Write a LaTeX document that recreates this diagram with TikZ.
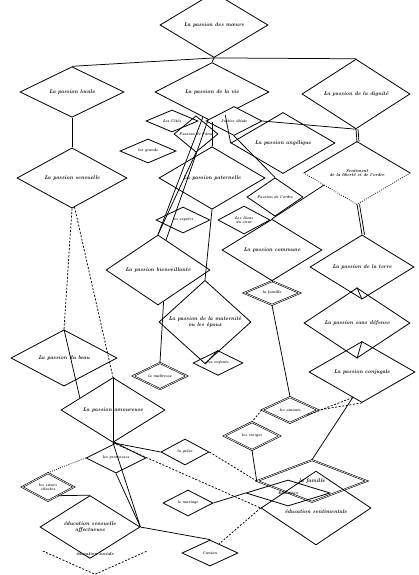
\documentclass[tikz,border=0pt]{standalone}
\usetikzlibrary{shapes.geometric}
\begin{document}
\begin{tikzpicture}[x=1pt,y=-1pt,
  dm/.style 2 args={diamond, draw, line width=0.8pt, inner sep=0pt, minimum width=#1pt, minimum height=#2pt, align=center, font=\fontsize{5.4}{5.8}\selectfont\bfseries\itshape},
  ds/.style 2 args={diamond, draw, line width=0.8pt, inner sep=0pt, minimum width=#1pt, minimum height=#2pt, align=center, font=\fontsize{3.9}{4.3}\selectfont\bfseries\itshape},
  dk/.style={double, line width=0.6pt, double distance=0.6pt},
  nd/.style 2 args={diamond, inner sep=0pt, minimum width=#1pt, minimum height=#2pt, align=center, font=\fontsize{4.4}{4.9}\selectfont\bfseries\itshape},
  conn/.style={line width=0.75pt},
  dsh/.style={line width=0.75pt, dash pattern=on 2pt off 1.6pt},
  dot/.style={line width=0.8pt, dash pattern=on 0.8pt off 1.4pt}]
\useasboundingbox (0,0) rectangle (418,575);
% nodes
\node[dm={108}{44}] (n1) at (214,25) {La passion des m\oe urs};
\node[dm={104}{48}] (n2) at (72,92) {La passion locale};
\node[dm={114}{42}] (n3) at (212,92) {La passion de la vie};
\node[dm={108}{44}] (n4) at (356,94) {La passion de la dignit\'e};
\node[ds={52}{22}, fill=white] (n5) at (172,121) {Les Cit\'es};
\node[ds={56}{22}, fill=white] (n6) at (234,121) {Justice id\'eale};
\node[ds={44}{20}] (n7) at (196,134) {Passion de l'\^ame};
\node[ds={56}{24}] (n8) at (148,151) {les grands};
\node[dm={104}{36}] (n9) at (283,143) {La passion ang\'elique};
\node[nd={106}{46}] (nS) at (357,173) {Sentiment\\[-0.5pt]de la libert\'e et de l'ordre};
\draw[line width=0.8pt] (nS.west) -- (nS.north) -- (nS.east);
\draw[dot] (nS.east) -- (nS.south) -- (nS.west);
\node[dm={110}{46}] (nL) at (72,178) {La passion sensuelle};
\node[dm={106}{44}] (n11) at (212,178) {La passion paternelle};
\node[ds={56}{26}] (n12) at (275,197) {Passion de l'ordre};
\node[ds={52}{28}] (n13) at (244,220) {Les \'elans\\du c\oe ur};
\node[ds={54}{26}] (n14) at (183,220) {les espoirs};
\node[dm={104}{40}] (n15) at (158,270) {La passion bienveillante};
\node[dm={100}{44}] (n16) at (272,250) {La passion commune};
\node[dm={104}{46}] (n17) at (362,267) {La passion de la terre};
\node[ds={56}{24}, dk] (n18) at (272,293) {la famille};
\node[dm={92}{42}] (n19) at (205,322) {La passion de la maternit\'e\\ou les \'epoux};
\node[ds={50}{22}] (n20) at (218,363) {les enfants};
\node[dm={106}{42}] (n21) at (357,323) {La passion sans d\'efense};
\node[dm={106}{46}] (n22) at (362,372) {La passion conjugale};
\node[ds={54}{24}, dk] (n23) at (160,376) {la ma\^itresse};
\node[dm={106}{44}] (n24) at (64,358) {La passion du beau};
\node[dm={104}{40}] (n25) at (113,410) {La passion amoureuse};
\node[ds={56}{26}, dk] (n26) at (290,410) {les amants};
\node[ds={56}{28}, dk] (n27) at (252,436) {les vierges};
\node[ds={48}{26}] (n28) at (185,452) {la gr\^ace};
\node[ds={60}{26}] (n29) at (116,458) {les promesses};
\node[ds={52}{28}, dk] (n30) at (48,487) {les s\oe urs\\chastes};
\node[ds={50}{26}] (n31) at (188,503) {le mariage};
\node[dm={110}{42}, dk] (n32a) at (312,481) {la famille};
\node[ds={84}{26}] (n32b) at (288,493) {\'Education};
\node[dm={110}{44}] (n32c) at (316,508) {\\[6pt]\'education sentimentale};
\node[dm={100}{46}] (n33) at (90,527) {\'education sensuelle\\affectueuse};
\node[nd={104}{34}] (n33d) at (95,551) {\\[4pt]\'education sociale};
\draw[dsh] (n33d.west) -- (n33d.south) -- (n33d.east);
\node[ds={56}{26}] (n34) at (210,553) {l'union};
% connectors
\draw[conn] (n1.south) -- (n2.north);
\draw[conn] (n1.south) -- (n3.north);
\draw[conn] (n1.south) -- (n4.north);
\draw[conn] (n2.south) -- (nL.north);
\draw[conn] (n4.south) -- (nS.north);
\draw[conn] ([xshift=2pt]n4.south) -- ([xshift=2pt]nS.north);
\draw[conn] (n4.south) -- (n6.east);
\draw[conn] (n3.south) -- (n11.north);
\draw[conn] (n3.250) -- (n15.north);
\draw[conn] (n3.262) -- (n15.75);
\draw[conn] (n7.south) -- (n15.north);
\draw[conn] (n3.-60) -- (n9.west);
\draw[conn] (n6.south) -- (n12.north);
\draw[conn] (n11.south) -- (n19.north);
\draw[conn] (nS.200) -- (n16.north);
\draw[conn] (nS.south) -- (n17.north);
\draw[conn] ([xshift=2.5pt]nS.south) -- ([xshift=2.5pt]n17.north);
\draw[conn] (n17.south) -- (n21.north);
\draw[conn] (n21.south) -- (n22.north);
\draw[conn] (n22.250) -- (n32a.north);
\draw[dsh] (n22.south) -- (n26.east);
\draw[dsh] (n22.250) -- (n26.-20);
\draw[conn] (n16.south) -- (n18.north);
\draw[conn] (n18.south) -- (n26.north);
\draw[dsh] (n26.west) -- (n27.north);
\draw[conn] (n27.south) -- (n32a.west);
\draw[conn] (n19.south) -- (n20.north);
\draw[conn] (n15.-80) -- (n23.north);
\draw[dsh] (nL.south) -- (n24.north);
\draw[dsh] (nL.-85) -- (n25.north);
\draw[conn] (n24.north) -- (n25.160);
\draw[conn] (n25.north) -- (n25.south);
\draw[conn] (n25.south) -- (n29.north);
\draw[conn] (n25.south) -- (n28.west);
\draw[conn] (n25.south) -- (n33.east);
\draw[conn] (n29.south) -- (n33.east);
\draw[dot] (n29.west) -- (n30.north);
\draw[conn] (n30.-40) -- (n33.north);
\draw[conn] (n33.east) -- (n34.north);
\draw[conn] (n31.east) -- (n32b.west);
\draw[dsh] (n28.east) -- (n32a.west);
\draw[dsh] (n25.south) -- (n32c.west);
\draw[dsh] (n32c.west) -- (n34.45);
\end{tikzpicture}
\end{document}
